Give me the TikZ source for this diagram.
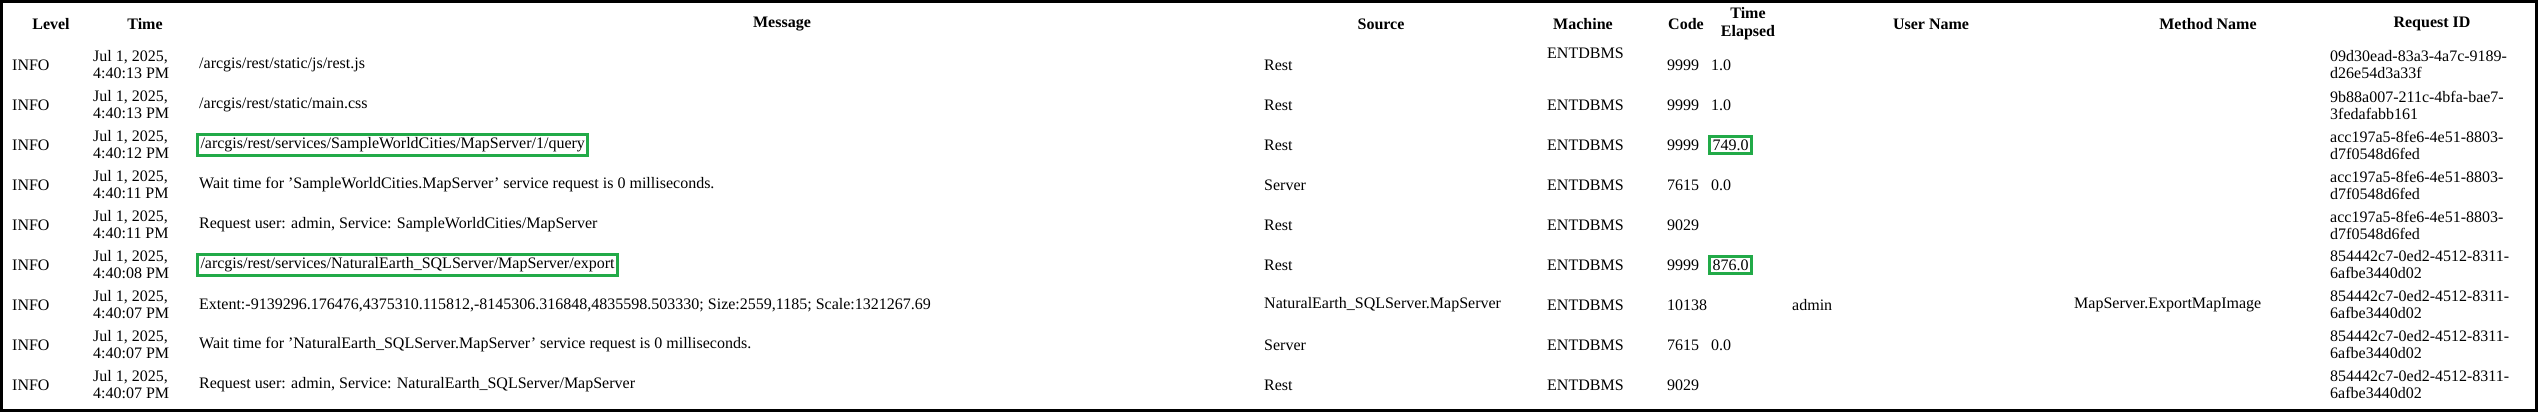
\documentclass[tikz,border=0pt]{standalone}
\usepackage{fontspec}
\setmainfont{Liberation Serif}[Ligatures=NoCommon]
\definecolor{hl}{RGB}{34,170,72}
\newcommand{\sq}{\char"0027\relax}
\begin{document}
\begin{tikzpicture}[x=1pt,y=-1pt,
  every node/.style={inner sep=0pt,font=\fontsize{16}{17}\selectfont},
  c/.style={anchor=west,align=left},
  h/.style={font=\fontsize{16}{18}\selectfont\bfseries,align=center},
  box/.style={draw=hl,line width=3pt,inner sep=3pt}]
\useasboundingbox (0,0) rectangle (2538,412);
\draw[line width=3pt] (1.5,1.5) rectangle (2536.5,410.5);
% headers
\node[h] (hLevel) at (51,24) {Level};
\node[h] (hTime) at (145,24) {Time};
\node[h] (hMsg) at (782,24) {Message};
\node[h] (hSrc) at (1381,24) {Source};
\node[h] (hMach) at (1583,24) {Machine};
\node[h] (hCode) at (1686,24) {Code};
\node[h] (hTE) at (1748,24) {Time\\Elapsed};
\node[h] (hUser) at (1931,24) {User Name};
\node[h] (hMeth) at (2208,24) {Method Name};
\node[h] (hReq) at (2432,24) {Request ID};
% rows
\foreach \i/\tm/\msg/\src/\code/\te/\req in {
 1/4:40:13 PM/{/arcgis/rest/static/js/rest.js}/Rest/9999/1.0/{09d30ead-83a3-4a7c-9189-\\d26e54d3a33f},
 2/4:40:13 PM/{/arcgis/rest/static/main.css}/Rest/9999/1.0/{9b88a007-211c-4bfa-bae7-\\3fedafabb161},
 3/4:40:12 PM/{}/Rest/9999/{}/{acc197a5-8fe6-4e51-8803-\\d7f0548d6fed},
 4/4:40:11 PM/{Wait time for \sq SampleWorldCities.MapServer\sq{} service request is 0 milliseconds.}/Server/7615/0.0/{acc197a5-8fe6-4e51-8803-\\d7f0548d6fed},
 5/4:40:11 PM/{Request user: admin, Service: SampleWorldCities/MapServer}/Rest/9029/{}/{acc197a5-8fe6-4e51-8803-\\d7f0548d6fed},
 6/4:40:08 PM/{}/Rest/9999/{}/{854442c7-0ed2-4512-8311-\\6afbe3440d02},
 7/4:40:07 PM/{Extent:-9139296.176476,4375310.115812,-8145306.316848,4835598.503330; Size:2559,1185; Scale:1321267.69}/NaturalEarth\_SQLServer.MapServer/10138/{}/{854442c7-0ed2-4512-8311-\\6afbe3440d02},
 8/4:40:07 PM/{Wait time for \sq NaturalEarth\_SQLServer.MapServer\sq{} service request is 0 milliseconds.}/Server/7615/0.0/{854442c7-0ed2-4512-8311-\\6afbe3440d02},
 9/4:40:07 PM/{Request user: admin, Service: NaturalEarth\_SQLServer/MapServer}/Rest/9029/{}/{854442c7-0ed2-4512-8311-\\6afbe3440d02}}{
  \pgfmathsetmacro\yy{65+40*(\i-1)}
  \node[c] (lv\i) at (12,\yy) {INFO};
  \node[c] (tm\i) at (93,\yy) {Jul 1, 2025,\\\tm};
  \node[c] (ms\i) at (199,\yy) {\msg};
  \node[c] (sr\i) at (1264,\yy) {\src};
  \node[c] (cd\i) at (1667,\yy) {\code};
  \node[c] (te\i) at (1711,\yy) {\te};
  \node[c] (rq\i) at (2330,\yy) {\req};
}
\node[c] (m1) at (1547,53) {ENTDBMS};
\foreach \i in {2,...,9}{\pgfmathsetmacro\yy{65+40*(\i-1)}\node[c] (m\i) at (1547,\yy) {ENTDBMS};}
\node[c,box] (q) at (196,145) {/arcgis/rest/services/SampleWorldCities/MapServer/1/query};
\node[c,box] (x) at (196,265) {/arcgis/rest/services/NaturalEarth\_SQLServer/MapServer/export};
\node[c,box] (t1) at (1708,145) {749.0};
\node[c,box] (t2) at (1708,265) {876.0};
\node[c] (adm) at (1792,305) {admin};
\node[c] (meth) at (2074,305) {MapServer.ExportMapImage};
\end{tikzpicture}
\end{document}
